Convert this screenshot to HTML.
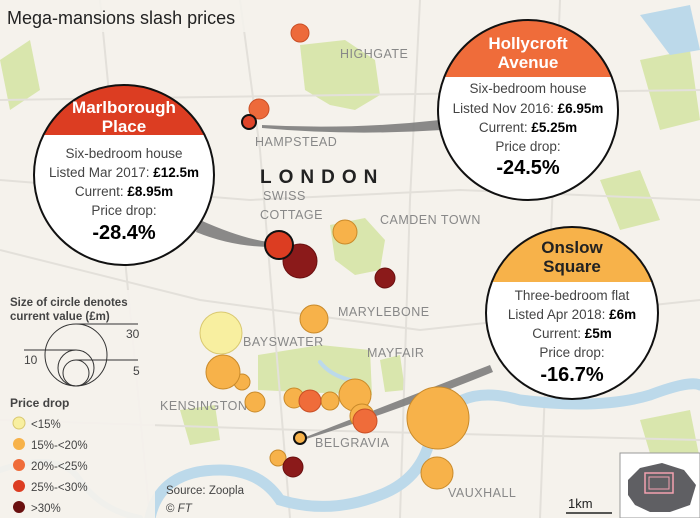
<!DOCTYPE html>
<html><head><meta charset="utf-8"><style>
html,body{margin:0;padding:0;background:#f5f2ec}
svg{display:block;font-family:"Liberation Sans",sans-serif}
</style></head><body>
<svg width="700" height="518" viewBox="0 0 700 518" xmlns="http://www.w3.org/2000/svg">
<defs>
<clipPath id="c1"><circle cx="124" cy="175" r="90"/></clipPath>
<clipPath id="c2"><circle cx="528" cy="110" r="90"/></clipPath>
<clipPath id="c3"><circle cx="572" cy="313" r="86"/></clipPath>
</defs>
<rect width="700" height="518" fill="#f5f2ec"/>
<!-- parks -->
<g fill="#d9e6ad">
<path d="M300 45 L345 40 L375 60 L380 95 L355 110 L330 105 L305 90 Z"/>
<path d="M330 225 L365 218 L385 240 L380 270 L355 275 L335 260 Z"/>
<path d="M258 355 L320 345 L370 350 L372 395 L300 392 L258 390 Z"/>
<path d="M380 360 L400 355 L405 390 L385 392 Z"/>
<path d="M640 60 L690 50 L700 120 L660 130 Z"/>
<path d="M600 180 L640 170 L660 220 L620 230 Z"/>
<path d="M0 60 L30 40 L40 90 L10 110 Z"/>
<path d="M640 420 L690 410 L700 460 L655 470 Z"/>
<path d="M180 410 L215 405 L220 440 L190 445 Z"/>
</g>
<!-- roads -->
<g stroke="#e3e0da" stroke-width="2" fill="none">
<path d="M0 250 L200 300 L420 330 L700 300"/>
<path d="M0 180 L250 200 L460 190 L700 200"/>
<path d="M240 0 L260 150 L290 518"/>
<path d="M420 0 L410 200 L400 518"/>
<path d="M0 420 L300 430 L700 440"/>
<path d="M560 0 L540 518"/>
<path d="M100 0 L150 518"/>
<path d="M0 100 L700 90"/>
</g>
<!-- water -->
<g fill="none" stroke="#bcd9ea" stroke-linecap="round">
<path d="M150 518 Q160 470 220 470 Q260 470 280 500 Q330 515 380 495 Q420 480 430 440 Q450 380 520 400 Q600 410 650 395 Q690 380 700 385" stroke-width="11"/>
<path d="M320 362 Q330 375 350 380" stroke-width="4"/>
<path d="M0 470 Q60 450 80 480 Q100 510 140 518" stroke-width="6"/>
</g>
<path d="M640 15 L690 5 L700 50 L670 55 Z" fill="#bcd9ea"/>
<!-- connectors -->
<g fill="#777" opacity="0.85">
<path d="M200 220 Q240 238 268 242 L268 247 Q230 246 196 232 Z"/>
<path d="M262 125 Q350 130 440 120 L442 130 Q350 136 262 128 Z"/>
<path d="M298 440 Q400 400 490 365 L493 372 Q400 410 300 441 Z"/>
</g>
<!-- labels -->
<g fill="#888" font-size="12.5" letter-spacing="0.5">
<text x="340" y="58">HIGHGATE</text>
<text x="255" y="146">HAMPSTEAD</text>
<text x="263" y="200">SWISS</text>
<text x="260" y="219">COTTAGE</text>
<text x="380" y="224">CAMDEN TOWN</text>
<text x="338" y="316">MARYLEBONE</text>
<text x="243" y="346">BAYSWATER</text>
<text x="367" y="357">MAYFAIR</text>
<text x="160" y="410">KENSINGTON</text>
<text x="315" y="447">BELGRAVIA</text>
<text x="448" y="497">VAUXHALL</text>
</g>
<text x="260" y="183" font-size="19" font-weight="bold" fill="#222" letter-spacing="7">LONDON</text>
<!-- bubbles -->
<g stroke-width="1" stroke="#c98a2a">
<circle cx="300" cy="33" r="9" fill="#ed6a3b" stroke="#c94f26"/>
<circle cx="259" cy="109" r="10" fill="#ed6a3b" stroke="#c94f26"/>
<circle cx="249" cy="122" r="7" fill="#e0452a" stroke="#111" stroke-width="2"/>
<circle cx="300" cy="261" r="17" fill="#8b1a1a" stroke="#6a1010"/>
<circle cx="279" cy="245" r="14" fill="#dc3d22" stroke="#111" stroke-width="2"/>
<circle cx="345" cy="232" r="12" fill="#f7b24a"/>
<circle cx="385" cy="278" r="10" fill="#8b1a1a" stroke="#6a1010"/>
<circle cx="314" cy="319" r="14" fill="#f7b24a"/>
<circle cx="221" cy="333" r="21" fill="#f8efa0" stroke="#d9c870"/>
<circle cx="242" cy="382" r="8" fill="#f7b24a"/>
<circle cx="223" cy="372" r="17" fill="#f7b24a"/>
<circle cx="255" cy="402" r="10" fill="#f7b24a"/>
<circle cx="294" cy="398" r="10" fill="#f7b24a"/>
<circle cx="330" cy="401" r="9" fill="#f7b24a"/>
<circle cx="310" cy="401" r="11" fill="#ef6c3a" stroke="#c94f26"/>
<circle cx="355" cy="395" r="16" fill="#f7b24a"/>
<circle cx="362" cy="416" r="12" fill="#f7b24a"/>
<circle cx="365" cy="421" r="12" fill="#ef6c3a" stroke="#c94f26"/>
<circle cx="438" cy="418" r="31" fill="#f7b24a"/>
<circle cx="300" cy="438" r="6" fill="#f7b24a" stroke="#111" stroke-width="2"/>
<circle cx="278" cy="458" r="8" fill="#f7b24a"/>
<circle cx="293" cy="467" r="10" fill="#8b1a1a" stroke="#6a1010"/>
<circle cx="437" cy="473" r="16" fill="#f7b24a"/>
</g>
<!-- callout 1 -->
<circle cx="124" cy="175" r="90" fill="#fff"/>
<rect x="30" y="80" width="190" height="55" fill="#dc3d22" clip-path="url(#c1)"/>
<circle cx="124" cy="175" r="90" fill="none" stroke="#111" stroke-width="2"/>
<g text-anchor="middle" font-size="13.5" fill="#444">
<text x="124" y="113" font-size="17" font-weight="bold" fill="#fff">Marlborough</text>
<text x="124" y="132" font-size="17" font-weight="bold" fill="#fff">Place</text>
<text x="124" y="158">Six-bedroom house</text>
<text x="124" y="177">Listed Mar 2017: <tspan font-weight="bold" fill="#000">£12.5m</tspan></text>
<text x="124" y="196">Current: <tspan font-weight="bold" fill="#000">£8.95m</tspan></text>
<text x="124" y="215">Price drop:</text>
<text x="124" y="239" font-size="20" font-weight="bold" fill="#000">-28.4%</text>
</g>
<!-- callout 2 -->
<circle cx="528" cy="110" r="90" fill="#fff"/>
<rect x="430" y="15" width="200" height="62" fill="#ef6c3a" clip-path="url(#c2)"/>
<circle cx="528" cy="110" r="90" fill="none" stroke="#111" stroke-width="2"/>
<g text-anchor="middle" font-size="13.5" fill="#444">
<text x="528" y="49" font-size="17" font-weight="bold" fill="#fff">Hollycroft</text>
<text x="528" y="68" font-size="17" font-weight="bold" fill="#fff">Avenue</text>
<text x="528" y="93">Six-bedroom house</text>
<text x="528" y="113">Listed Nov 2016: <tspan font-weight="bold" fill="#000">£6.95m</tspan></text>
<text x="528" y="132">Current: <tspan font-weight="bold" fill="#000">£5.25m</tspan></text>
<text x="528" y="151">Price drop:</text>
<text x="528" y="174" font-size="20" font-weight="bold" fill="#000">-24.5%</text>
</g>
<!-- callout 3 -->
<circle cx="572" cy="313" r="86" fill="#fff"/>
<rect x="480" y="220" width="190" height="62" fill="#f7b24a" clip-path="url(#c3)"/>
<circle cx="572" cy="313" r="86" fill="none" stroke="#111" stroke-width="2"/>
<g text-anchor="middle" font-size="13.5" fill="#444">
<text x="572" y="253" font-size="17" font-weight="bold" fill="#222">Onslow</text>
<text x="572" y="272" font-size="17" font-weight="bold" fill="#222">Square</text>
<text x="572" y="300">Three-bedroom flat</text>
<text x="572" y="319">Listed Apr 2018: <tspan font-weight="bold" fill="#000">£6m</tspan></text>
<text x="572" y="338">Current: <tspan font-weight="bold" fill="#000">£5m</tspan></text>
<text x="572" y="357">Price drop:</text>
<text x="572" y="381" font-size="20" font-weight="bold" fill="#000">-16.7%</text>
</g>
<!-- title -->
<rect x="0" y="0" width="275" height="32" fill="#f5f2ec" opacity="0.85"/>
<text x="7" y="24" font-size="18" fill="#222">Mega-mansions slash prices</text>
<!-- legend -->
<rect x="0" y="290" width="155" height="228" fill="#f5f2ec" opacity="0.9"/>
<g font-size="11.5" fill="#444">
<text x="10" y="306" font-weight="bold">Size of circle denotes</text>
<text x="10" y="320" font-weight="bold">current value (£m)</text>
<g fill="none" stroke="#333" stroke-width="1">
<circle cx="76" cy="355" r="31"/>
<circle cx="76" cy="368" r="18"/>
<circle cx="76" cy="373" r="13"/>
<line x1="76" y1="324" x2="138" y2="324"/>
<line x1="24" y1="350" x2="76" y2="350"/>
<line x1="76" y1="360" x2="138" y2="360"/>
</g>
<text x="126" y="338" font-size="12">30</text>
<text x="24" y="364" font-size="12">10</text>
<text x="133" y="375" font-size="12">5</text>
<text x="10" y="407" font-weight="bold" font-size="12">Price drop</text>
<circle cx="19" cy="423" r="6" fill="#f8efa0" stroke="#d9c870"/>
<text x="31" y="428">&lt;15%</text>
<circle cx="19" cy="444" r="6" fill="#f7b24a"/>
<text x="31" y="449">15%-&lt;20%</text>
<circle cx="19" cy="465" r="6" fill="#ef6c3a"/>
<text x="31" y="470">20%-&lt;25%</text>
<circle cx="19" cy="486" r="6" fill="#dc3d22"/>
<text x="31" y="491">25%-&lt;30%</text>
<circle cx="19" cy="507" r="6" fill="#6a1010"/>
<text x="31" y="512">&gt;30%</text>
<text x="166" y="494">Source: Zoopla</text>
<text x="166" y="512">© <tspan font-style="italic">FT</tspan></text>
</g>
<!-- scale -->
<text x="568" y="508" font-size="13" fill="#222">1km</text>
<line x1="566" y1="513" x2="612" y2="513" stroke="#222" stroke-width="1.5"/>
<!-- inset -->
<rect x="620" y="453" width="80" height="65" fill="#fff" stroke="#999"/>
<path d="M628 480 L640 468 L662 463 L684 470 L696 485 L690 505 L670 512 L650 512 L635 505 L628 495 Z" fill="#5f5f63"/>
<rect x="645" y="473" width="28" height="20" fill="none" stroke="#f4a0b0" stroke-width="1.5"/>
<rect x="649" y="477" width="20" height="12" fill="none" stroke="#f4a0b0" stroke-width="1"/>
</svg>
</body></html>
